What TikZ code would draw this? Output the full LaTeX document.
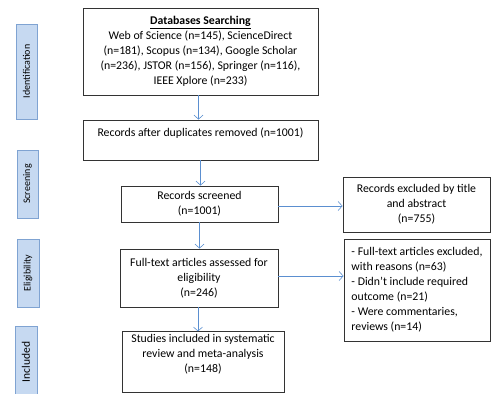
\documentclass[tikz,border=0pt]{standalone}
\usepackage{fontspec}
\setmainfont{Carlito}
\usepackage{tikz}
\usetikzlibrary{arrows.meta}

\definecolor{stageblue}{HTML}{C6D9F1}
\definecolor{stageline}{HTML}{7FA3D2}
\definecolor{flowblue}{HTML}{5B8FD0}

\tikzset{
  box/.style={draw=black!80, line width=0.9pt, align=center, inner sep=2pt,
              font=\fontsize{11.8}{15}\selectfont},
  stagebox/.style={draw=stageline, fill=stageblue, line width=0.9pt, rotate=90,
              inner sep=0pt, font=\fontsize{10}{12}\selectfont},
  flow/.style={draw=flowblue, line width=0.6pt, -{Straight Barb[length=4pt,width=9pt]}}
}

\begin{document}
\begin{tikzpicture}[x=1pt,y=-1pt]
    \useasboundingbox (0,0) rectangle (491,394);
    \clip (0,0) rectangle (491,394);
                      % stage labels
    \node[stagebox, minimum width=95pt, minimum height=21pt] (identlab) at (26.5,71.5) {Identification};
    \node[stagebox, minimum width=68pt, minimum height=21pt] (screenlab) at (27.5,184) {Screening};
    \node[stagebox, minimum width=68pt, minimum height=22pt] (eliglab) at (28,273) {Eligibility};
    \node[stagebox, minimum width=72pt, minimum height=22pt] (incllab) at (26,362) {\fontsize{11.5}{13}\selectfont Included};
                      % main column
    \node[box, minimum width=235pt, minimum height=87pt] (search) at (200.5,51.5)
        {\underline{\textbf{Databases Searching}}\\
         Web of Science (n=145), ScienceDirect\\
         (n=181), Scopus (n=134), Google Scholar\\
         (n=236), JSTOR (n=156), Springer (n=116),\\
         IEEE Xplore (n=233)};
    \node[box, minimum width=235pt, minimum height=40pt] (dedup) at (200.5,140)
        {Records after duplicates removed (n=1001)\\ \mbox{}};
    \node[box, minimum width=157pt, minimum height=36pt] (screened) at (199.5,204)
        {Records screened\\(n=1001)};
    \node[box, minimum width=158pt, minimum height=58pt] (fulltext) at (199,278)
        {Full-text articles assessed for\\eligibility\\(n=246)};
    \node[box, minimum width=162pt, minimum height=60pt] (studies) at (203,362)
        {Studies included in systematic\\review and meta-analysis\\(n=148)\\[3pt]};
                      % exclusions
    \node[box, minimum width=147pt, minimum height=55pt] (excltitle) at (416.5,204.5)
        {Records excluded by title\\and abstract\\(n=755)};
    \node[box, minimum width=146pt, minimum height=102pt, align=left] (exclfull) at (417,290)
        {- Full-text articles excluded,\\with reasons (n=63)\\- Didn’t include required\\outcome (n=21)\\- Were commentaries,\\reviews (n=14)};
                      % connectors
    \draw[flow] ([xshift=-2pt]search.south) -- ([xshift=-2pt]search.south |- dedup.north);
    \draw[flow] (dedup.south) -- (dedup.south |- screened.north);
    \draw[flow] (screened.south) -- (screened.south |- fulltext.north);
    \draw[flow] ([xshift=-1pt]fulltext.south) -- ([xshift=-1pt]fulltext.south |- studies.north);
    \draw[flow] ([yshift=-2pt]screened.east) -- ([yshift=-2pt]screened.east -| excltitle.west);
    \draw[flow] ([yshift=2pt]fulltext.east) -- ([yshift=2pt]fulltext.east -| exclfull.west);
\end{tikzpicture}
\end{document}
